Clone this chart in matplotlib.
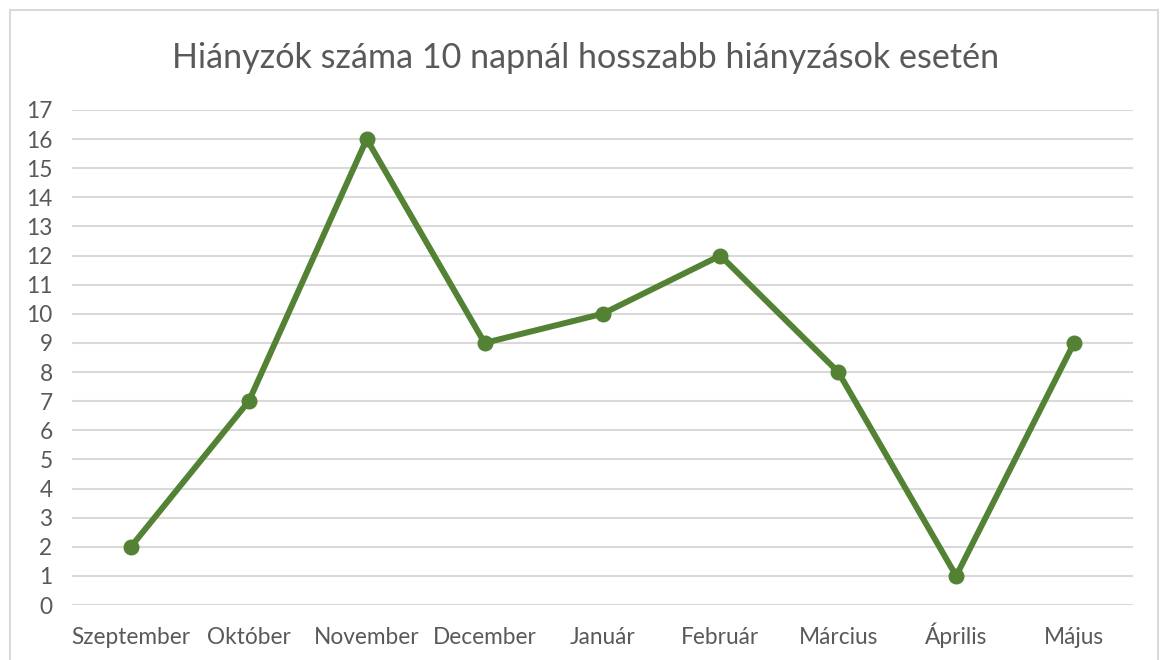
import matplotlib.pyplot as plt
from matplotlib.patches import Rectangle

honapok = ['Szeptember', 'Október', 'November', 'December', 'Január',
           'Február', 'Március', 'Április', 'Május']
hianyzok = [2, 7, 16, 9, 10, 12, 8, 1, 9]
y_ticks = list(range(0, 18))

szoveg = '#595959'
zold = '#548235'
racs = '#D9D9D9'

plt.rcParams['font.family'] = ['Lato', 'DejaVu Sans']

fig = plt.figure(figsize=(11.65, 6.6), dpi=100)
ax = fig.add_axes([72 / 1165, 55 / 660, (1133 - 72) / 1165, (605 - 110) / 660])

# keret a diagram körül
fig.patches.append(Rectangle((10 / 1165, -0.01), 1148 / 1165, 1.01 - 10 / 660,
                             transform=fig.transFigure, fill=False,
                             edgecolor=racs, linewidth=1.5))

x = range(len(honapok))
ax.plot(x, hianyzok, color=zold, linewidth=4.3, marker='o', markersize=10.5,
        solid_joinstyle='round', solid_capstyle='round', zorder=3)

ax.set_xlim(-0.5, len(honapok) - 0.5)
ax.set_ylim(0, 17)
ax.set_yticks(y_ticks)
ax.set_xticks(list(x))
ax.set_xticklabels(honapok, va='baseline')
ax.grid(axis='y', color=racs, linewidth=1.5, zorder=0)
ax.tick_params(length=0, labelsize=16.3, labelcolor=szoveg)
ax.tick_params(axis='y', pad=14)
ax.tick_params(axis='x', pad=28)
for s in ax.spines.values():
    s.set_visible(False)

fig.text(586 / 1165, 1 - 58 / 660, 'Hiányzók száma 10 napnál hosszabb hiányzások esetén',
         ha='center', va='center', fontsize=24.6, color=szoveg)

fig.savefig('out.png', dpi=100)
